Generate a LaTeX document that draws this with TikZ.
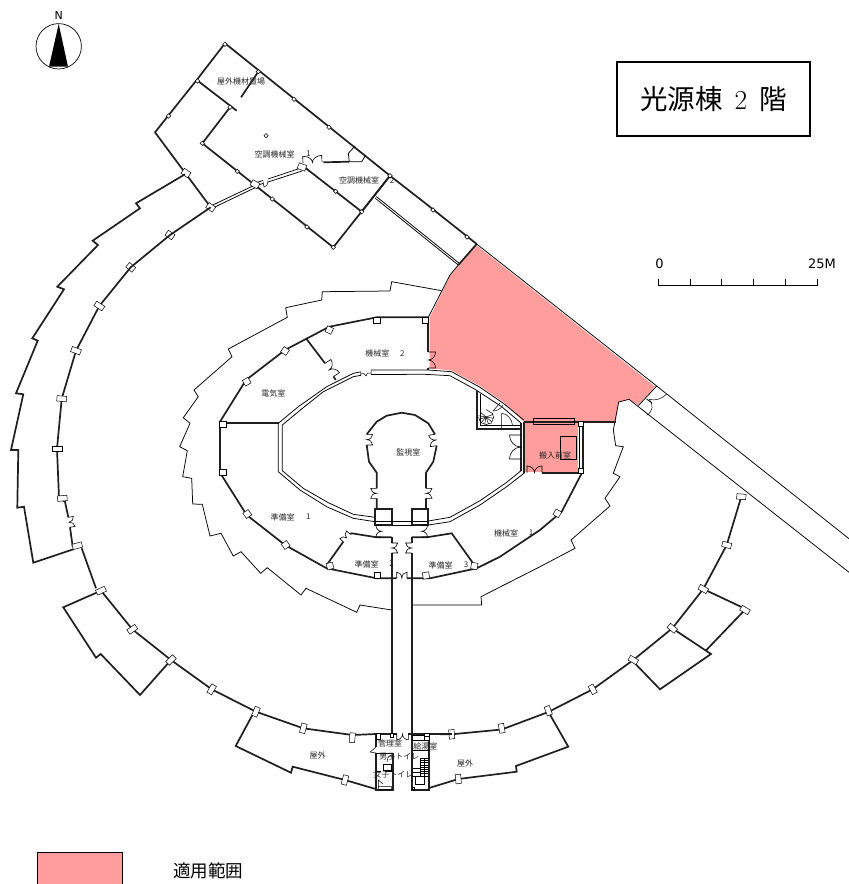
\documentclass[tikz,border=0pt]{standalone}
\usepackage{fontspec}
\usetikzlibrary{calc}
\newfontfamily\jp{Noto Sans CJK JP}
\newfontfamily\djv{DejaVu Sans}
\definecolor{pinkarea}{HTML}{FF9C9C}
\tikzset{
  wall/.style={line width=1.7pt,line join=miter,draw=black!88},
  thin wall/.style={line width=.75pt},
  fine/.style={line width=.5pt},
  pil/.style={line width=.5pt,fill=white},
  lab/.style={font=\jp\fontsize{8}{9}\selectfont,inner sep=0pt,text=black!85},
}
% double door: wall opening A-B, leaves stand off by factor s of the opening
\newcommand{\ddoor}[3]{%
  \coordinate (dA) at (#1);\coordinate (dB) at (#2);
  \coordinate (dM) at ($(dA)!.5!(dB)$);
  \coordinate (dAp) at ($(dA)!#3!90:(dB)$);
  \coordinate (dBp) at ($(dB)!#3!-90:(dA)$);
  \coordinate (dC) at ($(dAp)!.5!(dBp)$);
  \draw[line width=.6pt] (dA)--(dAp) .. controls ($(dAp)!.55!(dC)$) and ($(dM)!.55!(dC)$) .. (dM)
     .. controls ($(dM)!.55!(dC)$) and ($(dBp)!.55!(dC)$) .. (dBp)--(dB);
}
\begin{document}
\begin{tikzpicture}[x=1pt,y=-1pt]
\useasboundingbox (0,0) rectangle (849,884);
% --- coloured area
\fill[pinkarea] (476.7,245.5)--(655,386.5)--(638,405)--(629,399.3)--(618.7,402)--(615.7,421.7)--(523.7,421.7)
  --(503.3,402)--(480,386)--(451.7,370.5)--(429.5,368.3)--(429.5,318)--(450,276)--(459,265)--cycle;
\fill[pinkarea] (525,421.7) rectangle (578.3,472);
% --- compass
\draw[line width=.7pt] (58.7,46.3) circle (22.7);
\fill (58.7,24)--(68,66.7)--(49,66.7)--cycle;
\node[inner sep=0pt,font=\djv\fontsize{11}{12}\selectfont] (north) at (58.7,15.3) {N};
% --- title box
\draw[line width=1.5pt] (617,62) rectangle (810,136);
\node[inner sep=0pt,font=\fontsize{27.5}{30}\selectfont] (title) at (713.5,99) {{\jp 光源棟}\hspace{12pt}2\hspace{12pt}{\jp 階}};
% --- scale
\draw[line width=.8pt] (658.3,278.7)--(658.3,285.3)--(817,285.3)--(817,278.7);
\foreach \x in {690,721.8,753.5,785.3}{\draw[line width=.7pt] (\x,278.7)--(\x,285.3);}
\node[inner sep=0pt,font=\djv\fontsize{13}{14}\selectfont] (s0) at (659.5,264) {0};
\node[inner sep=0pt,font=\djv\fontsize{13}{14}\selectfont] (s25) at (822,264) {25M};
% --- legend
\draw[line width=.6pt,fill=pinkarea] (37,852) rectangle (122,884.5);
\node[inner sep=0pt,font=\jp\fontsize{17.5}{19}\selectfont] (legend) at (208,871) {適用範囲};

% --- upper building
\draw[wall] (210.7,207.3)--(155,132.3)--(196.7,80)--(225,43.3)--(390,175.7)--(425,203)--(476.7,244);
\draw[wall] (196.7,80)--(236.7,110.7);
\draw[wall] (230,107.3)--(202.3,143.3)--(333.3,247.3)--(390,175.7);
\draw[wall] (301.7,165)--(361.7,211.7);
\draw[wall] (258.3,71.7)--(241,97.3);
\draw[thin wall] (255,183)--(263,180.5) (268,179)--(301,168);
\draw[thin wall] (256,185.5)--(263,183.5) (268,182)--(302,171);
\draw[thin wall] (210.7,206)--(255,185) (211.7,208.5)--(255.5,187.5);
\draw[wall] (323.3,162.3)--(349,161.7);
\draw[thin wall] (349.3,161.7)--(361.7,161.7)--(365.7,155) (349.3,161.7)--(348.3,153.3)--(355,146);
\ddoor{303,163}{322,162}{.35}
\draw[fine] (263,181.5)--(264,187) .. controls (266,187) and (268,185) .. (268,180.5);
\draw[thin wall] (375,198)--(458.3,265);
\draw[thin wall] (376.3,196.5)--(459.5,263.5);
\draw[wall] (476.7,244)--(458.3,265);
\draw[wall] (390,175.7)--(361.7,211.7);
\draw[thin wall] (476.7,244)--(656.7,386)--(849,538.7);
\draw[thin wall] (629,399.3)--(849,572.3);
\draw[pil] (264,135.7)--(266,133.5)--(268.2,135.7)--(266,137.9)--cycle;
\foreach \x/\y in {225/44.3, 197.5/81, 168.5/116, 230/107.3, 202.3/143.3, 237.3/171.3, 272.3/199, 307/227, 333.3/247.3, 361.7/211.7, 335.7/191.3, 258.3/71.7, 294/99.3, 329/127.3, 390/175.7, 433/210, 467/237}
 {\draw[pil] (\x-2.2,\y)--(\x,\y-2.2)--(\x+2.2,\y)--(\x,\y+2.2)--cycle;}
\foreach \x/\y/\a in {186/173/-35, 210.7/207.3/-35, 170/235/-35, 130.7/267.3/-40, 255/184.3/-30, 302/167/-20}
 {\draw[pil,shift={(\x,\y)},rotate=\a] (-4,-3) rectangle (4,3);}

% --- outer ring, left
\draw[wall] (185,174.3)--(136,203.3)--(140,208.3)--(92.7,240.7)--(98,245)--(57.3,286.7)--(64,289.3)--(32.3,338.3)--(37.7,340.7)--(16,393.3)--(23.3,394.3)--(11,450)--(18.3,450)--(17.3,507.7)--(24,506.7)--(33.3,562.7)--(73.3,549.3);
\draw[wall] (210.7,207.3)--(170,235)--(130.7,267.3)--(99.3,306)--(76,350.7)--(61.7,398.7)--(57,448.7)--(59,498)--(65,501.7)--(68.3,517.3) (70,527.3)--(72.7,546.7);
\draw[wall] (81.7,548.3)--(96,588.3) (101,590.7)--(132.3,629.3)--(171,660)--(211.7,689.3)--(256,711.7)--(303.3,728.3)--(352.3,735)--(376,734);
\draw[wall] (101,590.7)--(63.3,607.3)--(96,657.7)--(100.7,654)--(140,695)--(171,660);
\draw[wall] (253.3,713.3)--(235.7,746)--(291,772.7)--(292.7,766.7)--(345,780)--(375.7,789);
\ddoor{68.3,517.3}{70,527.3}{.5}
\foreach \x/\y/\a in {99.3/306/-33, 76/350.7/-20, 61.7/398.7/-5, 57/448.7/0, 62.3/498.3/5, 77.3/545.7/15, 101/590.7/25, 132.3/629.3/35, 171/660/45, 211.7/689.3/60, 256/711.7/68, 303.3/728.3/75, 352.3/737.7/85, 345/780/75}
 {\draw[pil,shift={(\x,\y)},rotate=\a] (-4.8,-2.7) rectangle (4.8,2.7);}

% --- outer ring, right
\draw[wall] (429,734)--(451.7,734.3)--(501.7,729.5)--(548.3,712)--(592.7,689.3)--(633.3,660)--(672.3,628.3)--(703.3,589)--(726.7,545)--(741.3,496.7);
\draw[wall] (548.3,711.7)--(568.3,746.7)--(516,766)--(516.7,771.7)--(458.3,779)--(429,788);
\draw[wall] (633.3,661.7)--(660,689.3)--(711,654)--(672.3,628.3);
\draw[wall] (705.7,650.7)--(745.7,609)--(703.3,589);
\foreach \x/\y/\a in {451.7/734.3/95, 501.7/728.3/100, 548.3/710.7/110, 592.7/689.3/118, 633.3/660/-30, 672.3/628.3/-40, 703.3/589/-30, 726.7/545/-15, 741.3/496.7/-5, 745/610/-30, 458.3/779/95}
 {\draw[pil,shift={(\x,\y)},rotate=\a] (-4.6,-2.7) rectangle (4.6,2.7);}

% --- thin jagged middle ring
\draw[thin wall] (441.7,290.7)--(391.7,281.7)--(390,291)--(322.3,291.7)--(321.7,300)--(285.7,307.7)--(287.3,317.3)--(228.3,349)--(232,356.7)--(194,390)--(198.3,396.7)--(183.3,417.7)--(190,423.3)--(179.7,446.7)--(187.3,450.7)--(182.7,476.7)--(191.7,478.3)--(192.7,504)--(202.3,504.3)--(210,536)--(221,533.3)--(233.3,556)--(241,551.7)--(260.7,573.3)--(267.3,567.7)--(301,595)--(306,588.3)--(356.7,612.3)--(360,605)--(391.7,610);
\draw[thin wall] (411.7,605)--(481.7,605)--(481,596.7)--(540,566.7)--(575,548.3)--(571,540)--(610,506)--(605,498.3)--(620,476.7)--(613.3,473.3)--(623.3,446.7)--(615.7,445.7)--(613.3,430)--(618.7,402)--(629,399.3);
\draw[thin wall] (458.3,265)--(450,275)--(428.3,317.3);
% loading-door at the diagonal
\draw[thin wall] (656.7,386)--(638.5,405.5) (646.5,399)--(652,403);
\draw[fine] (649,399.3) .. controls (655,401) and (662,399) .. (666.7,394);
\draw[fine] (649,399.3) .. controls (654,405) and (653,411) .. (646.7,415.3);

% --- oval ring wall
\draw[wall] (428.3,317.3)--(376.7,317.3)--(329.3,326.7)--(285,350)--(246,380)--(220,421.7)--(220,472.7)--(246.7,515)--(285,545)--(326.7,568.3)--(376.7,578.3)--(396.7,578.3);
\draw[wall] (407,578.3)--(430,578.3)--(476.7,568.3)--(500,556.7)--(540,530)--(561.7,511.7)--(581.7,473.3);
\draw[wall] (428.3,317.3)--(428.3,352) (428.3,368)--(428.3,370);
\ddoor{428.3,352}{428.3,368}{.45}
\ddoor{396.7,578.3}{407,578.3}{.6}
% partitions
\draw[wall] (306,338.3)--(325,363.3) (335.7,380)--(333.5,376.5);
\ddoor{325,363.3}{333.5,376.5}{.45}
\draw[wall] (220,422.7)--(279.3,422.7);
\draw[wall] (326.7,565)--(343.3,541.7) (350,534)--(351.7,533.3)--(376.7,537.3)--(391.7,537.3);
\ddoor{343.3,541.7}{350,534}{.45}
\draw[wall] (411.7,537.3)--(426.7,537.3)--(451.7,533.3)--(476.7,568.3);
% double inner wall
\draw[thin wall] (375,521.7)--(353.3,518.3)--(326.7,506.7)--(300,490)--(278.3,471.7)--(278.3,423.3)--(298.3,406.7)--(326.7,386.7)--(353.3,373.3)--(361,371.8);
\draw[thin wall] (375,517.3)--(353.3,514.3)--(328.3,502.7)--(303.3,488.3)--(282.3,470.7)--(282.3,425)--(301,409.5)--(323.3,391.7)--(353.3,376.7)--(361,375.3);
\draw[thin wall] (371,370)--(428.3,370)--(451.7,371.7)--(480,387.3)--(503.3,403.3)--(523.7,420);
\draw[thin wall] (371,374.5)--(425,374.3)--(450,375.7)--(475,389.3)--(501.7,406.7)--(521,423);
\draw[fine] (361,371.8)--(360.5,376) (371,370)--(371,374.5) (361,374) .. controls (363,372) and (365,374) .. (366,376) .. controls (367,373) and (369,372) .. (371,373);
\draw[thin wall] (428.3,525)--(450,521.7)--(480,505)--(506.7,486.7)--(524.3,473);
\draw[thin wall] (428.3,521)--(450,517.3)--(480,500.7)--(506.7,482.3)--(521,470.7);
\draw[wall] (521,423)--(521,470.7);
\draw[wall] (524.3,421.7)--(524.3,473);
\ddoor{521,435}{521,459}{-.48}
% carry-in room
\draw[wall] (524,421.7)--(615.7,421.7);
\draw[thin wall] (533.3,418.3) rectangle (574,424);
\draw[wall] (583.3,421.7)--(583.3,472.7)--(542.3,472.7);
\draw[thin wall] (579,424)--(579,471);
\ddoor{527,472.7}{542,472.7}{.45}
\draw[thin wall] (560,436.7) rectangle (576.7,459.3);
\foreach \x/\y in {580.7/423.6, 580.7/471}{\draw[pil] (\x-2.3,\y-2.3) rectangle (\x+2.3,\y+2.3);}
% stair room
\draw[wall] (478.3,391.7)--(476.7,391.7)--(476.7,429.3)--(521.7,429.3);
\draw[fine] (480,393.5)--(480,425.7)--(521,425.7);
\draw[fine] (501.7,413.3)--(501.7,429) (501.7,413.3) .. controls (508,414) and (512,419) .. (512.5,425.5);
\draw[fine] (493,411)--(500,403) (493,411) .. controls (496,411) and (500,410) .. (503,405);
\foreach \a in {-20,10,...,220}{\draw[fine] (486,417)--++(\a:7.5);}
\draw[fine] (486,409.5)--(492.5,413.5)--(493.5,417.5)--(491.5,423)--(486,424.5)--(480.5,422.5)--(478.5,417);
% pillars of the oval
\foreach \x/\y/\a in {425.5/320.5/0, 376.7/320.5/0, 329.3/330/-25, 285/351/-35, 246.7/381.7/-60, 222.7/424/0, 222.7/472.3/0, 247.3/514/35, 285.7/545/35, 330/566/15, 377.3/575.5/0, 426/575.5/10, 474.3/566/-10, 557.3/513.3/-30}
 {\draw[pil,shift={(\x,\y)},rotate=\a] (-3.2,-3.2) rectangle (3.2,3.2);}

% --- observation room
\draw[wall] (376.7,509.3)--(376.7,498.3) (376.7,488.3)--(376.7,472.7)--(369,461.7)--(366.7,445) (366.7,434.3)--(376.7,421.7)--(386.7,415.7)--(401.7,412.7)--(415,415)--(428.3,423.3)--(435,434.3) (436.7,445.7)--(433.3,461.7)--(426,472.7)--(426,488.3) (426,498.3)--(426,509.3);
\ddoor{376.7,488.3}{376.7,498.3}{-.6}
\ddoor{426,488.3}{426,498.3}{.6}
\ddoor{366.7,434.3}{366.7,445}{.55}
\ddoor{435,434.3}{436.7,445.7}{-.55}
\draw[wall] (375,509.3) rectangle (391.7,525);
\draw[wall] (411.7,509.3) rectangle (428.3,525);
\draw[thin wall] (375,521.7)--(428.3,521.7) (391.7,525)--(411.7,525);
\ddoor{381.7,525.5}{381.7,537}{-.5}
\ddoor{421.7,525.5}{421.7,537}{.5}
% --- corridor
\draw[wall] (391.7,537.3)--(391.7,543) (391.7,553)--(391.7,733);
\draw[wall] (411.7,537.3)--(411.7,543) (411.7,553)--(411.7,733);
\ddoor{391.7,543}{391.7,553}{.6}
\ddoor{411.7,543}{411.7,553}{-.6}

% --- south core, left
\draw[wall] (376,733)--(376,747) (376,753.3)--(376,790)--(392.7,790)--(392.7,753);
\draw[wall] (376,734)--(396.7,734) (408.3,734)--(451.7,734);
\draw[thin wall] (376,753.3)--(392.7,753.3);
\draw[thin wall] (376,771)--(381,771) (385,771)--(392.7,771);
\draw[fine] (376,747) .. controls (374,749) and (372,750.5) .. (370,752)--(376,753);
\draw[fine] (383.3,764) rectangle (391.7,770);
\draw[fine] (378.3,786.7) rectangle (391.7,789.3) (378.3,786)--(378.3,780)--(383,784);
\draw[fine] (391.7,755) .. controls (388,756) and (387,759) .. (387,762);
\draw[pil] (376,733) rectangle (380,739) (390.5,733) rectangle (393.5,737);
\ddoor{396.7,734}{408.3,734}{-.5}
% --- south core, right
\draw[wall] (411.7,733)--(411.7,790)--(429,790)--(429,733);
\draw[thin wall] (411.7,750)--(429,750);
\draw[fine] (412.7,735) rectangle (424,740);
\draw[pil] (424,733) rectangle (429,740) (424,736.5)--(429,736.5);
\draw[fine] (411.7,776)--(429,776) (415.7,776) rectangle (424,784.3);
\foreach \y in {758.3,760.5,...,774}{\draw[fine] (420,\y)--(428.3,\y);}
\draw[fine] (420,758.3)--(420,776) (424,758.3)--(424,776) (413,768)--(420,768) (413,772)--(420,772);
\draw[pil] (412,787) rectangle (414.5,789.5);

% --- labels
\node[lab] (t1) at (241,81) {屋外機材置場};
\node[lab] (t2) at (274.5,154.7) {空調機械室};
\node[lab] (t2n) at (308.5,154) {1};
\node[lab] (t3) at (359,180.5) {空調機械室};
\node[lab] (t3n) at (392,180.7) {2};
\node[lab] (t4) at (377.3,353.3) {機械室};
\node[lab] (t4n) at (402.3,353.3) {2};
\node[lab] (t5) at (273.3,393.7) {電気室};
\node[lab] (t6) at (408.3,452) {監視室};
\node[lab] (t7) at (282.7,517) {準備室};
\node[lab] (t7n) at (308.3,517) {1};
\node[lab] (t8) at (366.7,564) {準備室};
\node[lab] (t8n) at (391.7,564) {2};
\node[lab] (t9) at (440.7,565) {準備室};
\node[lab] (t9n) at (466,565) {3};
\node[lab] (t10) at (506,533) {機械室};
\node[lab] (t10n) at (531,533) {1};
\node[lab] (t11) at (555,455.7) {搬入前室};
\node[lab] (t12) at (317.7,755.7) {屋外};
\node[lab] (t13) at (465,763) {屋外};
\node[lab] (t14) at (390,743.3) {管理室};
\node[lab] (t15) at (425.3,746.7) {給湯室};
\node[lab] (t16) at (399.3,757) {男子トイレ};
\node[lab] (t17) at (393.3,774) {女子トイレ};
\end{tikzpicture}
\end{document}
